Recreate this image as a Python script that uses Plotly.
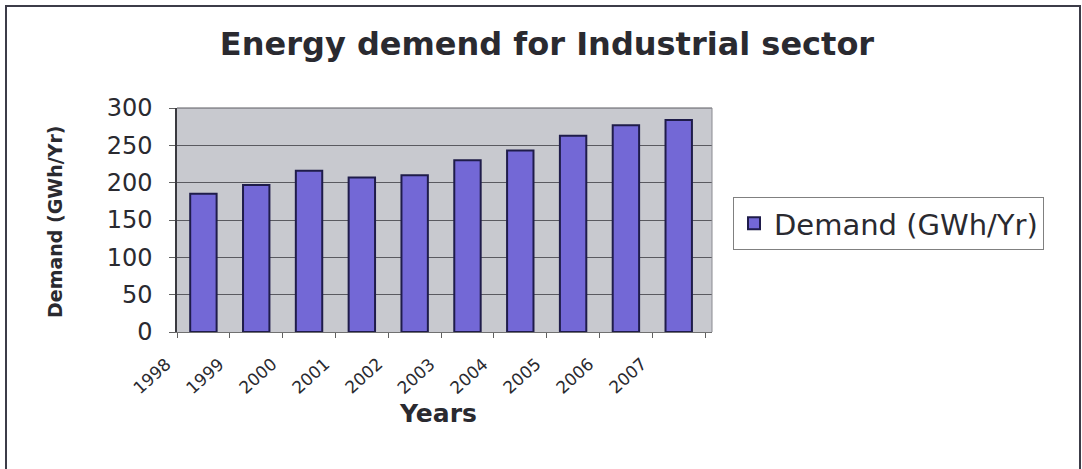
import plotly.graph_objects as go

# Annual industrial electricity demand
years = ["1998", "1999", "2000", "2001", "2002", "2003", "2004", "2005", "2006", "2007"]
demand = [185, 197, 216, 207, 210, 230, 243, 263, 277, 284]
y_ticks = [0, 50, 100, 150, 200, 250, 300]

W, H = 1082, 469
L, R, T, B = 177, 712, 108, 332          # plot area in pixels
FONT = "DejaVu Sans"
TXT = "#2a2a30"


def px_x(p):
    return (p - L) / (R - L)


def px_y(p):
    return (B - p) / (B - T)


fig = go.Figure()

fig.add_trace(go.Bar(
    x=years,
    y=demand,
    name="Demand (GWh/Yr)",
    width=0.5,
    marker=dict(color="#7368d6", line=dict(color="#1f1c4a", width=2)),
))

# rotated year labels, set back to the left as in the perspective layout
annotations = []
for i, yr in enumerate(years):
    annotations.append(dict(
        x=i, y=0, xref="x", yref="y",
        text=yr, showarrow=False, textangle=-42,
        xanchor="right", yanchor="top",
        xshift=-26, yshift=-19,
        font=dict(family=FONT, size=17, color=TXT),
    ))

# axis titles
annotations.append(dict(
    x=px_x(438), y=px_y(413), xref="paper", yref="paper",
    text="<b>Years</b>", showarrow=False,
    xanchor="center", yanchor="middle",
    font=dict(family=FONT, size=25, color=TXT),
))
annotations.append(dict(
    x=px_x(55), y=px_y(222), xref="paper", yref="paper",
    text="<b>Demand (GWh/Yr)</b>", showarrow=False, textangle=-90,
    xanchor="center", yanchor="middle",
    font=dict(family=FONT, size=19, color=TXT),
))

shapes = [
    # outer chart frame
    dict(type="rect", xref="paper", yref="paper",
         x0=px_x(6), x1=px_x(1080), y0=px_y(480), y1=px_y(6),
         line=dict(color="#3c3c48", width=2), fillcolor="rgba(0,0,0,0)",
         layer="below"),
    # top and right edges of the plotting area
    dict(type="line", xref="paper", yref="paper", x0=0, x1=1, y0=1, y1=1,
         line=dict(color="#5a5a60", width=1)),
    dict(type="line", xref="paper", yref="paper", x0=1, x1=1, y0=0, y1=1,
         line=dict(color="#8a8a90", width=1)),
]

fig.update_layout(
    width=W, height=H,
    margin=dict(l=L, r=W - R, t=T, b=H - B, autoexpand=False),
    paper_bgcolor="white",
    plot_bgcolor="#c8c9cf",
    title=dict(
        text="<b>Energy demend for Industrial sector</b>",
        x=547 / W, y=1 - 44 / H, xref="container", yref="container",
        xanchor="center", yanchor="middle",
        font=dict(family=FONT, size=32, color=TXT),
    ),
    xaxis=dict(
        type="category",
        range=[-0.5, 9.63],
        showticklabels=False,
        tickson="boundaries",
        ticks="outside", ticklen=5, tickcolor="#606060",
        showgrid=False, zeroline=False,
        showline=True, linecolor="#707070", linewidth=1,
        fixedrange=True,
    ),
    yaxis=dict(
        range=[0, 300],
        tickvals=y_ticks,
        ticks="outside", ticklen=6, tickcolor="#606060",
        ticklabelstandoff=12,
        tickfont=dict(family=FONT, size=24, color=TXT),
        showgrid=True, gridcolor="#5a5a60", gridwidth=1,
        zeroline=False,
        showline=True, linecolor="#3a3a40", linewidth=1.5,
        fixedrange=True,
    ),
    legend=dict(
        x=733 / W, y=1 - 197 / H, xref="container", yref="container",
        xanchor="left", yanchor="top",
        bgcolor="white", bordercolor="#808080", borderwidth=1,
        font=dict(family=FONT, size=29, color=TXT),
        itemsizing="constant",
        tracegroupgap=0,
    ),
    showlegend=True,
    annotations=annotations,
    shapes=shapes,
)

fig.write_html("out.html")
